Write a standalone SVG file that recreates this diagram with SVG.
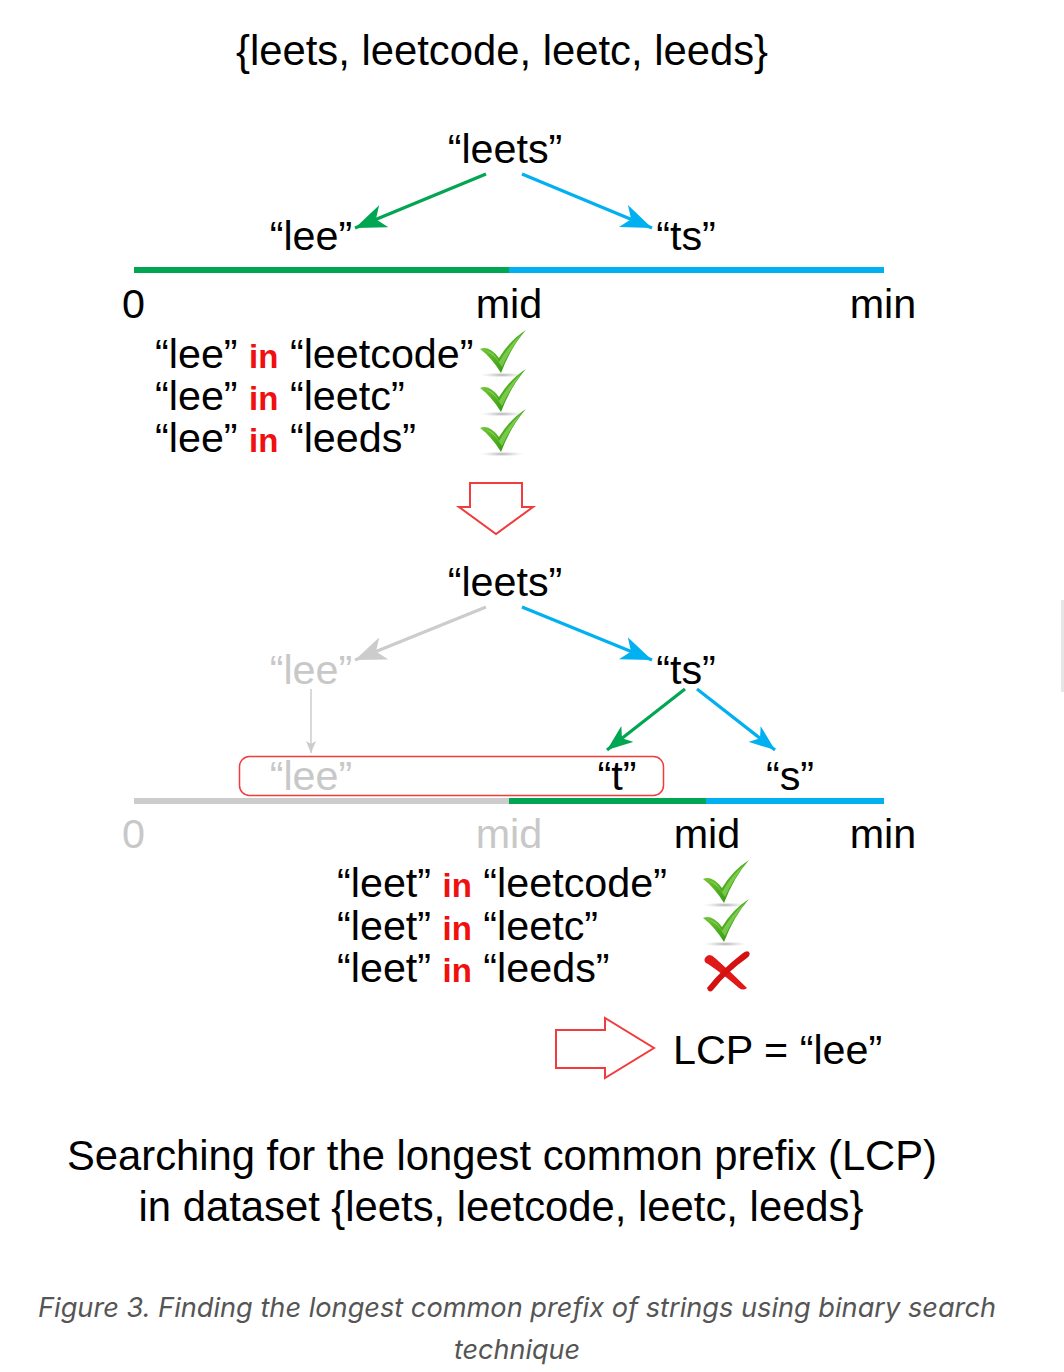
<svg xmlns="http://www.w3.org/2000/svg" width="1064" height="1372" viewBox="0 0 1064 1372">
<style>
text{font-family:"Liberation Sans",Arial,sans-serif;font-size:41.3px;fill:#000}
.big{font-size:41.8px}
.c{text-anchor:middle}
.g{fill:#c8c8c8}
.r{fill:#f01010;font-size:33px;font-weight:bold}
.cap{font-family:Inter,"Liberation Sans",sans-serif;font-style:italic;font-size:27px;fill:#555;text-anchor:middle}
.ln{stroke-width:3.2;fill:none}
.grn{stroke:#00a651}
.blu{stroke:#00b0f0}
.gry{stroke:#cccccc}
.bar{stroke-width:6}
.hollow{fill:#fff;stroke:#f03c3c;stroke-width:2}
</style>
<defs>
<marker id="ag" viewBox="0 0 26 20" refX="26" refY="10" markerWidth="31" markerHeight="24" markerUnits="userSpaceOnUse" orient="auto"><path d="M0,0 L26,10 L0,20 L7,10 Z" fill="#00a651"/></marker>
<marker id="ab" viewBox="0 0 26 20" refX="26" refY="10" markerWidth="31" markerHeight="24" markerUnits="userSpaceOnUse" orient="auto"><path d="M0,0 L26,10 L0,20 L7,10 Z" fill="#00b0f0"/></marker>
<marker id="ay" viewBox="0 0 26 20" refX="26" refY="10" markerWidth="31" markerHeight="24" markerUnits="userSpaceOnUse" orient="auto"><path d="M0,0 L26,10 L0,20 L7,10 Z" fill="#cccccc"/></marker>
<marker id="agS" viewBox="0 0 26 20" refX="26" refY="10" markerWidth="26" markerHeight="20" markerUnits="userSpaceOnUse" orient="auto"><path d="M0,0 L26,10 L0,20 L7,10 Z" fill="#00a651"/></marker>
<marker id="abS" viewBox="0 0 26 20" refX="26" refY="10" markerWidth="26" markerHeight="20" markerUnits="userSpaceOnUse" orient="auto"><path d="M0,0 L26,10 L0,20 L7,10 Z" fill="#00b0f0"/></marker>
<marker id="ayT" viewBox="0 0 12 10" refX="12" refY="5" markerWidth="12" markerHeight="10" markerUnits="userSpaceOnUse" orient="auto"><path d="M0,0 L12,5 L0,10 L3,5 Z" fill="#cccccc"/></marker>
<linearGradient id="chk" x1="0" y1="0" x2="1" y2="1"><stop offset="0" stop-color="#8fd94c"/><stop offset="0.6" stop-color="#46a81a"/><stop offset="1" stop-color="#2a850e"/></linearGradient>
<radialGradient id="shd"><stop offset="0" stop-color="#999" stop-opacity="0.8"/><stop offset="1" stop-color="#ccc" stop-opacity="0"/></radialGradient>
<g id="check">
<ellipse cx="22" cy="43" rx="22" ry="2.5" fill="url(#shd)"/>
<path d="M0,17 Q9,13 19,26 Q30,8 46,-2 Q31,15 21,41 Q11,25 0,17 Z" fill="url(#chk)"/>
<path d="M6,19 Q13,19 19,30 Q29,13 41,3 Q30,18 22,35 Q14,22 6,19 Z" fill="#b5ef86" opacity="0.45"/>
</g>
<g id="cross">
<path d="M2,8 Q6,2 12,8 Q28,22 44,38 Q40,41 36,38 Q20,24 5,14 Q0,12 2,8 Z" fill="#e01818"/>
<path d="M46,2 Q48,5 44,8 Q24,22 10,40 Q6,44 4,38 Q18,20 40,3 Q44,0 46,2 Z" fill="#d41010"/>
</g>
</defs>
<rect width="1064" height="1372" fill="#fff"/>

<g id="title"><text class="c big" x="502" y="65">{leets, leetcode, leetc, leeds}</text></g>

<g id="connectors">
<line class="ln grn" x1="486" y1="174" x2="355" y2="228" marker-end="url(#ag)"/>
<line class="ln blu" x1="522" y1="174" x2="652" y2="228" marker-end="url(#ab)"/>
<line class="ln gry" x1="486" y1="607" x2="355" y2="660" marker-end="url(#ay)"/>
<line class="ln blu" x1="522" y1="607" x2="652" y2="660" marker-end="url(#ab)"/>
<line class="gry" stroke-width="1.5" x1="311" y1="689" x2="311" y2="753" marker-end="url(#ayT)"/>
<line class="ln grn" x1="685" y1="689" x2="607" y2="750" marker-end="url(#agS)"/>
<line class="ln blu" x1="697" y1="689" x2="775" y2="750" marker-end="url(#abS)"/>
</g>

<g id="tree1">
<g id="t1-root"><text class="c" x="505" y="163">“leets”</text></g>
<g id="t1-lee"><text class="c" x="311" y="250">“lee”</text></g>
<g id="t1-ts"><text class="c" x="686" y="250">“ts”</text></g>
<g id="axis1">
<line class="grn bar" x1="134" y1="270" x2="509" y2="270"/>
<line class="blu bar" x1="509" y1="270" x2="884" y2="270"/>
<text x="122" y="318">0</text>
<text class="c" x="509" y="318">mid</text>
<text class="c" x="883" y="318">min</text>
</g>
<g id="checks1">
<text x="155" y="368">“lee” <tspan class="r">in</tspan> “leetcode”</text>
<text x="155" y="410">“lee” <tspan class="r">in</tspan> “leetc”</text>
<text x="155" y="452">“lee” <tspan class="r">in</tspan> “leeds”</text>
<use href="#check" x="480" y="332"/>
<use href="#check" x="480" y="371"/>
<use href="#check" x="480" y="411"/>
</g>
</g>

<g id="down-arrow"><path class="hollow" d="M470,483 L522,483 L522,507 L533,507 L496,534 L459,507 L470,507 Z"/></g>

<g id="tree2">
<g id="t2-root"><text class="c" x="505" y="596">“leets”</text></g>
<g id="t2-lee"><text class="c g" x="311" y="684">“lee”</text></g>
<g id="t2-ts"><text class="c" x="686" y="684">“ts”</text></g>
<g id="t2-box"><rect x="239.5" y="756.5" width="424" height="39" rx="10" fill="none" stroke="#f03c3c" stroke-width="1.5"/>
<text class="c g" x="311" y="790">“lee”</text>
<text class="c" x="617" y="790">“t”</text></g>
<g id="t2-s"><text class="c" x="790" y="790">“s”</text></g>
<g id="axis2">
<line class="gry bar" x1="134" y1="801" x2="509" y2="801"/>
<line class="grn bar" x1="509" y1="801" x2="706" y2="801"/>
<line class="blu bar" x1="706" y1="801" x2="884" y2="801"/>
<text class="g" x="122" y="848">0</text>
<text class="c g" x="509" y="848">mid</text>
<text class="c" x="707" y="848">mid</text>
<text class="c" x="883" y="848">min</text>
</g>
<g id="checks2">
<text x="337" y="897">“leet” <tspan class="r">in</tspan> “leetcode”</text>
<text x="337" y="940">“leet” <tspan class="r">in</tspan> “leetc”</text>
<text x="337" y="982">“leet” <tspan class="r">in</tspan> “leeds”</text>
<use href="#check" x="703" y="862"/>
<use href="#check" x="703" y="901"/>
<use href="#cross" x="703" y="950"/>
</g>
</g>

<g id="result">
<path class="hollow" d="M556,1030 L605,1030 L605,1018 L654,1048 L605,1078 L605,1068 L556,1068 Z"/>
<text x="673" y="1064">LCP = “lee”</text>
</g>

<g id="caption">
<text class="c" x="502" y="1170" textLength="870" lengthAdjust="spacingAndGlyphs" style="font-size:41.8px">Searching for the longest common prefix (LCP)</text>
<text class="c" x="501" y="1221" style="font-size:41.8px">in dataset {leets, leetcode, leetc, leeds}</text>
</g>

<g id="figcaption">
<text class="cap" x="517" y="1317" textLength="958" lengthAdjust="spacingAndGlyphs">Figure 3. Finding the longest common prefix of strings using binary search</text>
<text class="cap" x="517" y="1359">technique</text>
</g>

<rect x="1061" y="600" width="3" height="92" fill="#e6e6e6"/>
</svg>
